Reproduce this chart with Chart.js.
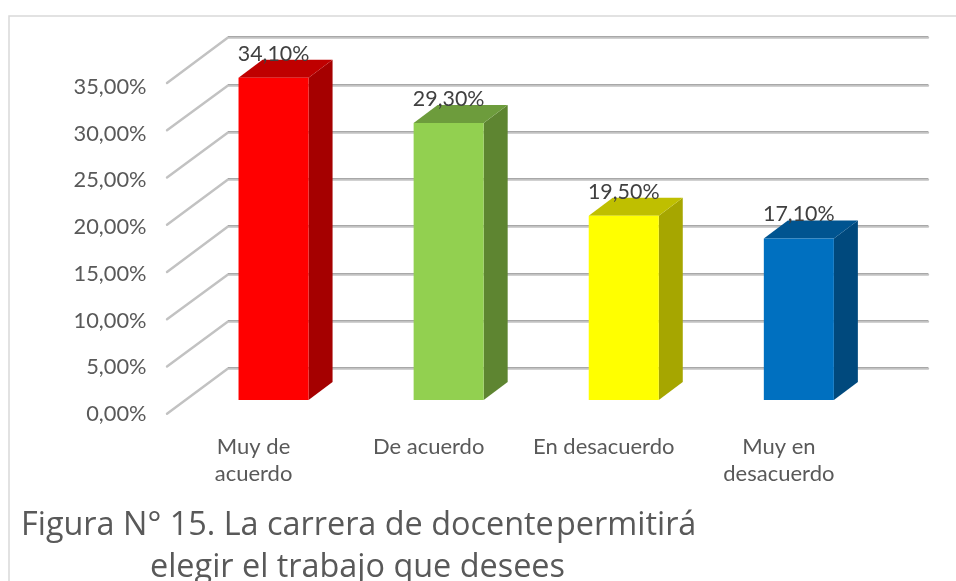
<!DOCTYPE html>
<html><head><meta charset="utf-8">
<style>html,body{margin:0;padding:0;background:#fff;overflow:hidden}canvas{display:block}</style>
<script src="https://cdn.jsdelivr.net/npm/chart.js@4"></script></head>
<body><canvas id="c" width="956" height="581"></canvas>
<script>
const categories = [["Muy de","acuerdo"],"De acuerdo","En desacuerdo",["Muy en","desacuerdo"]];
const values = [34.1, 29.3, 19.5, 17.1];
const valueLabels = ["34,10%","29,30%","19,50%","17,10%"];
const tickValues = [0,5,10,15,20,25,30,35];
const titleParts = ["Figura N° 15. La carrera de docente","permitirá","elegir el trabajo que desees"];
const frontColors = ["#ff0000","#92d050","#ffff00","#0070c0"];
const sideColors  = ["#a50000","#5e8531","#a6a600","#00497d"];
const topColors   = ["#bf0000","#6d9c3c","#bfbf00","#005490"];
const FONT = "Lato, 'Open Sans', sans-serif";
const TITLE_FONT = "'Open Sans', Lato, sans-serif";
const DX = 24, DY = 18;
const poly = (ctx, pts, fill) => { ctx.fillStyle = fill; ctx.beginPath();
  pts.forEach((p,i)=> i?ctx.lineTo(p[0],p[1]):ctx.moveTo(p[0],p[1])); ctx.closePath(); ctx.fill(); };
const scene = {
  id:'scene',
  beforeDraw(chart){
    const {ctx,width,height} = chart;
    ctx.save();
    ctx.fillStyle='#fff'; ctx.fillRect(0,0,width,height);
    ctx.strokeStyle='#d9d9d9'; ctx.lineWidth=1.5;
    ctx.beginPath(); ctx.moveTo(9,height); ctx.lineTo(9,16); ctx.lineTo(width,16); ctx.stroke();
    ctx.restore();
  },
  beforeDatasetsDraw(chart){
    const {ctx} = chart, y = chart.scales.y;
    ctx.save(); ctx.lineCap='round';
    tickValues.forEach(v=>{
      const p = y.getPixelForValue(v), back = Math.round(p-32), front = p+13.7;
      ctx.strokeStyle='#c2c2c2'; ctx.lineWidth=2.4;
      ctx.beginPath(); ctx.moveTo(167,front); ctx.lineTo(228,back+.5); ctx.lineTo(928,back+.5); ctx.stroke();
      ctx.strokeStyle='#a8a8a8'; ctx.lineWidth=1; ctx.lineCap='butt';
      ctx.beginPath(); ctx.moveTo(228,back-.5); ctx.lineTo(928,back-.5); ctx.stroke();
      ctx.lineCap='round';
    });
    const meta = chart.getDatasetMeta(0);
    meta.data.forEach((b,i)=>{
      const l=b.x-b.width/2, r=b.x+b.width/2, t=b.y, B=b.base;
      poly(ctx,[[r,t],[r+DX,t-DY],[r+DX,B-DY],[r,B]],sideColors[i]);
      poly(ctx,[[l,t],[l+DX,t-DY],[r+DX,t-DY],[r,t]],topColors[i]);
    });
    ctx.restore();
  },
  afterDatasetsDraw(chart){
    const {ctx} = chart;
    ctx.save();
    ctx.font = "21.4px "+FONT; ctx.fillStyle='#404040'; ctx.textAlign='center'; ctx.textBaseline='middle';
    chart.getDatasetMeta(0).data.forEach((b,i)=> ctx.fillText(valueLabels[i], b.x, b.y-24));
    ctx.font = "32.4px "+TITLE_FONT; ctx.fillStyle='#595959'; ctx.textAlign='left'; ctx.textBaseline='alphabetic';
    ctx.fillText(titleParts[0], 21, 535);
    ctx.fillText(titleParts[1], 556, 535);
    ctx.fillText(titleParts[2], 150, 577);
    ctx.restore();
  }
};
new Chart(document.getElementById('c'),{
  type:'bar',
  data:{labels:categories,datasets:[{data:values,backgroundColor:frontColors,borderWidth:0,barPercentage:0.4,categoryPercentage:1}]},
  plugins:[scene],
  options:{
    responsive:false,animation:false,
    layout:{padding:{left:0,right:69.6,top:69.25,bottom:0}},
    plugins:{legend:{display:false},tooltip:{enabled:false},title:{display:false}},
    scales:{
      x:{position:'bottom',grid:{display:false},border:{display:false},
        afterFit(s){s.height=181;},
        ticks:{color:'#595959',font:{family:FONT,size:22,lineHeight:1.25},labelOffset:-20,maxRotation:0,autoSkip:false,padding:25}},
      y:{display:false,min:0,max:35},
      yLabels:{position:'left',min:0,max:35.37,grid:{display:false},border:{display:false},
        afterFit(s){s.width=186;},
        afterBuildTicks(s){s.ticks=tickValues.map(v=>({value:v}));},
        ticks:{color:'#595959',font:{family:FONT,size:21.8},padding:31.5,labelOffset:14,
          callback:v=>v.toFixed(2).replace('.',',')+'%'}}
    }
  }
});
</script></body></html>
